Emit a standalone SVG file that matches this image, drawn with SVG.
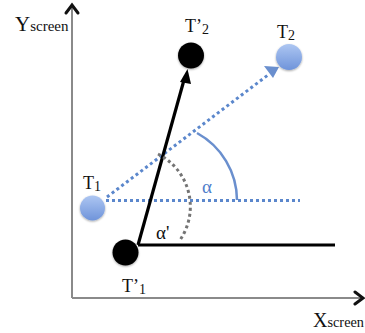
<svg xmlns="http://www.w3.org/2000/svg" width="365" height="333" viewBox="0 0 365 333">
  <defs>
    <linearGradient id="blueGrad" x1="0" y1="0" x2="0" y2="1">
      <stop offset="0" stop-color="#adc6f2"/>
      <stop offset="1" stop-color="#6f94da"/>
    </linearGradient>
    <filter id="shadow" x="-30%" y="-30%" width="160%" height="160%">
      <feGaussianBlur in="SourceAlpha" stdDeviation="1.2"/>
      <feOffset dx="0" dy="1" result="b"/>
      <feComponentTransfer><feFuncA type="linear" slope="0.35"/></feComponentTransfer>
      <feMerge><feMergeNode/><feMergeNode in="SourceGraphic"/></feMerge>
    </filter>
  </defs>
  <style>
    .axis { stroke: #8a8a8a; stroke-width: 2; fill: none; }
    .axhead { stroke: #111; stroke-width: 3; fill: none; stroke-linecap: round; stroke-linejoin: miter; }
    .blk { stroke: #000; stroke-width: 3.2; fill: none; }
    .bdot { stroke: #5b87cc; stroke-width: 3; stroke-dasharray: 3 3; fill: none; }
    .gdot { stroke: #747474; stroke-width: 3; stroke-dasharray: 3 3; fill: none; }
    .barc { stroke: #6a8fce; stroke-width: 2.5; fill: none; }
    .lbl { font-family: "Liberation Serif", "Times New Roman", serif; font-size: 18px; fill: #111; }
    .sub { font-size: 14px; }
    .ax { font-family: "Liberation Serif", "Times New Roman", serif; fill: #111; }
    .blueNode { fill: url(#blueGrad); filter: url(#shadow); }
    .blackNode { fill: #000; filter: url(#shadow); }
  </style>

  <g id="axes">
    <line class="axis" x1="72" y1="298" x2="72" y2="6"/>
    <polyline class="axhead" points="66,13 72,5 78,13"/>
    <line class="axis" x1="72" y1="298" x2="361" y2="298"/>
    <polyline class="axhead" points="355,292 363,298 355,304"/>
    <text class="ax" x="15" y="31"><tspan font-size="21">Y</tspan><tspan font-size="15">screen</tspan></text>
    <text class="ax" x="313" y="327" textLength="51" lengthAdjust="spacingAndGlyphs"><tspan font-size="21">X</tspan><tspan font-size="15">screen</tspan></text>
  </g>

  <g id="connectors">
    <line class="bdot" x1="106" y1="200.5" x2="300" y2="200.5"/>
    <line class="bdot" x1="107" y1="197" x2="268" y2="75"/>
    <polygon points="279,67 264,66 273,78" fill="#6a8fce"/>
    <line class="blk" x1="138" y1="245" x2="335" y2="245"/>
    <line class="blk" x1="138" y1="245" x2="184" y2="80"/>
    <polygon points="187.5,69 180,82 191,84" fill="#000"/>
  </g>

  <g id="angles">
    <path class="barc" d="M197,133 A77,77 0 0,1 237,200"/>
    <path class="gdot" d="M158,154 A59,59 0 0,1 180,240"/>
    <text x="202" y="193" font-family="Liberation Serif, serif" font-size="19" fill="#4f7ecb">α</text>
    <text x="156" y="239" font-family="Liberation Serif, serif" font-size="19" fill="#111">α'</text>
  </g>

  <g id="T1">
    <circle class="blueNode" cx="92.5" cy="208" r="12.5"/>
    <text class="lbl" x="83" y="189">T<tspan class="sub" dy="2">1</tspan></text>
  </g>
  <g id="T2">
    <circle class="blueNode" cx="289" cy="57" r="13"/>
    <text class="lbl" x="277" y="38">T<tspan class="sub" dy="2">2</tspan></text>
  </g>
  <g id="T1p">
    <circle class="blackNode" cx="125.5" cy="252.5" r="13"/>
    <text class="lbl" x="122" y="292">T’<tspan class="sub" dy="2">1</tspan></text>
  </g>
  <g id="T2p">
    <circle class="blackNode" cx="191" cy="55.5" r="13"/>
    <text class="lbl" x="185" y="32">T’<tspan class="sub" dy="2">2</tspan></text>
  </g>
</svg>
